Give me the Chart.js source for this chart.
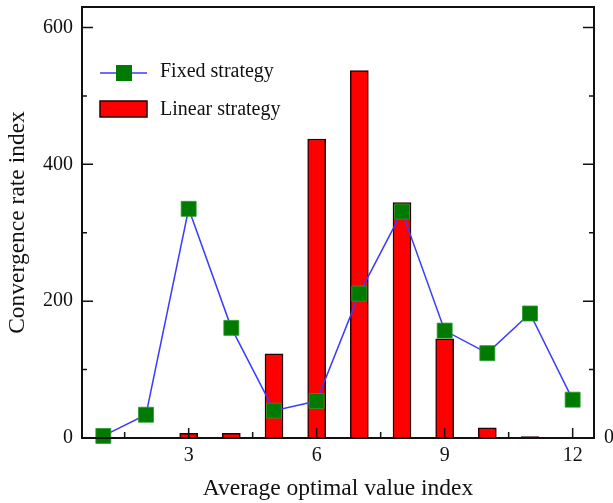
<!DOCTYPE html>
<html>
<head>
<meta charset="utf-8">
<script src="https://cdn.jsdelivr.net/npm/chart.js@4/dist/chart.umd.min.js"></script>
<style>
  html, body { margin: 0; padding: 0; background: #fff; }
  #wrap { width: 613px; height: 503px; }
</style>
</head>
<body>
<div id="wrap"><canvas id="myChart" width="613" height="503"></canvas></div>
<script>
// data
var barX = [2, 3, 4, 5, 6, 7, 8, 9, 10, 11];
var linearValues = [1, 7, 7, 123, 437, 537, 344, 145, 15, 2];

var lineX = [1, 2, 3, 4, 5, 6, 7, 8, 9, 10, 11, 12];
var fixedValues = [3, 34, 335, 161, 40, 54, 211, 331, 157, 124, 182, 56];

var xTicks = [3, 6, 9, 12];
var xMinorTicks = [1.5, 4.5, 7.5, 10.5];
var yTicks = [0, 200, 400, 600];
var yMinorTicks = [100, 300, 500];

var serif = '"Liberation Serif", "Times New Roman", serif';

function toPoints(xs, ys) {
    return xs.map(function (x, i) { return { x: x, y: ys[i] }; });
}

// frame, inside tick marks and the legend box
var framePlugin = {
    id: 'frame',
    afterDraw: function (chart) {
        var ctx = chart.ctx;
        var a = chart.chartArea;
        var xs = chart.scales.x, ys = chart.scales.y;
        ctx.save();
        ctx.strokeStyle = '#111';
        ctx.lineWidth = 2;
        ctx.strokeRect(a.left, a.top, a.right - a.left, a.bottom - a.top);

        ctx.lineWidth = 1.5;
        ctx.beginPath();
        xTicks.forEach(function (v) {
            var px = xs.getPixelForValue(v);
            ctx.moveTo(px, a.bottom); ctx.lineTo(px, a.bottom - 10);
        });
        xMinorTicks.forEach(function (v) {
            var px = xs.getPixelForValue(v);
            ctx.moveTo(px, a.bottom); ctx.lineTo(px, a.bottom - 6);
        });
        yTicks.forEach(function (v) {
            var py = ys.getPixelForValue(v);
            ctx.moveTo(a.left, py); ctx.lineTo(a.left + 11, py);
            ctx.moveTo(a.right, py); ctx.lineTo(a.right - 11, py);
        });
        yMinorTicks.forEach(function (v) {
            var py = ys.getPixelForValue(v);
            ctx.moveTo(a.left, py); ctx.lineTo(a.left + 5, py);
            ctx.moveTo(a.right, py); ctx.lineTo(a.right - 5, py);
        });
        ctx.stroke();

        // legend
        var lx = a.left + 18;
        ctx.strokeStyle = '#3b3bff';
        ctx.lineWidth = 1.5;
        ctx.beginPath();
        ctx.moveTo(lx, 73); ctx.lineTo(lx + 47, 73);
        ctx.stroke();
        ctx.fillStyle = '#007a00';
        ctx.fillRect(lx + 16, 65, 16, 16);
        ctx.fillStyle = '#ff0000';
        ctx.fillRect(lx, 101, 47, 16);
        ctx.strokeStyle = '#2a0000';
        ctx.lineWidth = 1.5;
        ctx.strokeRect(lx, 101, 47, 16);

        ctx.fillStyle = '#111';
        ctx.font = '20px ' + serif;
        ctx.textBaseline = 'middle';
        ctx.textAlign = 'left';
        ctx.fillText('Fixed strategy', lx + 60, 72);
        ctx.fillText('Linear strategy', lx + 60, 110);
        ctx.restore();
    }
};

function noPadY(scale) {
    scale.paddingTop = 0;
    scale.paddingBottom = 0;
}

var ctx = document.getElementById('myChart').getContext('2d');

var myChart = new Chart(ctx, {
    type: 'bar',
    data: {
        datasets: [{
            type: 'line',
            label: 'Fixed strategy',
            data: toPoints(lineX, fixedValues),
            borderColor: '#3b3bff',
            borderWidth: 1.5,
            pointStyle: 'rect',
            pointRadius: 10.6,
            pointBackgroundColor: '#007a00',
            pointBorderColor: '#2c9a2c',
            pointBorderWidth: 0.8,
            tension: 0,
            clip: false,
            order: 0
        }, {
            type: 'bar',
            label: 'Linear strategy',
            data: toPoints(barX, linearValues),
            backgroundColor: '#ff0000',
            borderColor: '#2a0000',
            borderWidth: 1.5,
            barThickness: 18,
            order: 1
        }]
    },
    options: {
        responsive: false,
        animation: false,
        layout: { autoPadding: false, padding: { top: 7, right: 0, left: 0, bottom: 0 } },
        plugins: {
            legend: { display: false },
            tooltip: { enabled: false }
        },
        scales: {
            x: {
                type: 'linear',
                offset: false,
                min: 0.5,
                max: 12.5,
                grid: { display: false, offset: false, drawTicks: false },
                border: { display: false },
                afterBuildTicks: function (scale) {
                    scale.ticks = xTicks.map(function (v) { return { value: v }; });
                },
                afterFit: function (scale) {
                    scale.height = 65;
                    scale.paddingLeft = 0;
                    scale.paddingRight = 0;
                },
                ticks: {
                    color: '#111',
                    font: { family: serif, size: 20 },
                    padding: 6,
                    maxRotation: 0
                },
                title: {
                    display: true,
                    text: 'Average optimal value index',
                    color: '#111',
                    font: { family: serif, size: 23.5 },
                    padding: { top: 0, bottom: 0 }
                }
            },
            y: {
                min: 0,
                max: 630,
                grid: { display: false, drawTicks: false },
                border: { display: false },
                afterBuildTicks: function (scale) {
                    scale.ticks = yTicks.map(function (v) { return { value: v }; });
                },
                afterFit: function (scale) {
                    scale.width = 82;
                    noPadY(scale);
                },
                ticks: {
                    color: '#111',
                    font: { family: serif, size: 20 },
                    padding: 9
                },
                title: {
                    display: true,
                    text: 'Convergence rate index',
                    color: '#111',
                    font: { family: serif, size: 23.5 },
                    padding: { top: 4, bottom: 0 }
                }
            },
            y2: {
                position: 'right',
                min: 0,
                max: 630,
                grid: { display: false, drawTicks: false },
                border: { display: false },
                afterBuildTicks: function (scale) {
                    scale.ticks = [{ value: 0 }];
                },
                afterFit: function (scale) {
                    scale.width = 19;
                    noPadY(scale);
                },
                ticks: {
                    color: '#111',
                    font: { family: serif, size: 20 },
                    padding: 10
                }
            }
        }
    },
    plugins: [framePlugin]
});
</script>
</body>
</html>
